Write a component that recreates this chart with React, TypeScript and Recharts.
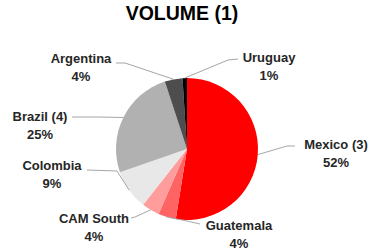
import React from 'react';
import { PieChart, Pie, Cell } from 'recharts';

const categories = ['Mexico (3)', 'Guatemala', 'CAM South', 'Colombia', 'Brazil (4)', 'Argentina', 'Uruguay'];
const shares = [52, 4, 4, 9, 25, 4, 1];
const colors = ['#FF0000', '#FF6464', '#FF9C9C', '#E8E8E8', '#B1B1B1', '#4D4D4D', '#000000'];

// label layout: name centre offset from pie centre, leader-line end and elbow (offsets)
const labelLayout = [
  { tx: 149, ty: -5, ex: 108, ey: -3, bx: 100, by: -3 },
  { tx: 52, ty: 76, ex: 13, ey: 75, bx: 0, by: 72 },
  { tx: -93, ty: 69, ex: -56, ey: 69, bx: -52, by: 68 },
  { tx: -135, ty: 16, ex: -100, ey: 21, bx: -70, by: 22 },
  { tx: -147, ty: -33, ex: -115, ey: -32, bx: -90, by: -32 },
  { tx: -106, ty: -91, ex: -71, ey: -86, bx: -62, by: -86 },
  { tx: 82, ty: -92, ex: 51, ey: -90, bx: 41, by: -89 },
];

const data = categories.map((name, i) => ({ name, value: shares[i] }));

const RADIAN = Math.PI / 180;

const renderLabel = (props: any) => {
  const { cx, cy, midAngle, outerRadius, index, name, value } = props;
  const L = labelLayout[index];
  const sx = cx + outerRadius * Math.cos(-midAngle * RADIAN);
  const sy = cy + outerRadius * Math.sin(-midAngle * RADIAN);
  const pts = `${sx},${sy} ${cx + L.bx},${cy + L.by} ${cx + L.ex},${cy + L.ey}`;
  return (
    <g>
      <polyline points={pts} fill="none" stroke="#A6A6A6" strokeWidth={1} />
      <text x={cx + L.tx} y={cy + L.ty} textAnchor="middle" dominantBaseline="central"
        fontFamily="'Liberation Sans', Arial, sans-serif" fontWeight="bold" fontSize={13} fill="#262626">
        {name}
      </text>
      <text x={cx + L.tx} y={cy + L.ty + 18.5} textAnchor="middle" dominantBaseline="central"
        fontFamily="'Liberation Sans', Arial, sans-serif" fontWeight="bold" fontSize={13} fill="#262626">
        {`${value}%`}
      </text>
    </g>
  );
};

export default function App() {
  return (
    <div style={{ position: 'absolute', left: 0, top: 0, width: 369, height: 250, background: '#fff' }}>
      <div style={{
        position: 'absolute', left: 0, top: 1, width: 364, textAlign: 'center',
        fontFamily: "'Liberation Sans', Arial, sans-serif", fontWeight: 'bold', fontSize: 19.5,
        color: '#000', lineHeight: '24px'
      }}>VOLUME (1)</div>
      <PieChart width={369} height={250} style={{ position: 'absolute', left: 0, top: 0 }}>
        <Pie
          data={data}
          dataKey="value"
          nameKey="name"
          cx={182}
          cy={144}
          outerRadius={71}
          startAngle={90}
          endAngle={-270}
          stroke="none"
          label={renderLabel}
          labelLine={false}
          isAnimationActive={false}
        >
          {data.map((d, i) => (
            <Cell key={d.name} fill={colors[i]} />
          ))}
        </Pie>
      </PieChart>
    </div>
  );
}
